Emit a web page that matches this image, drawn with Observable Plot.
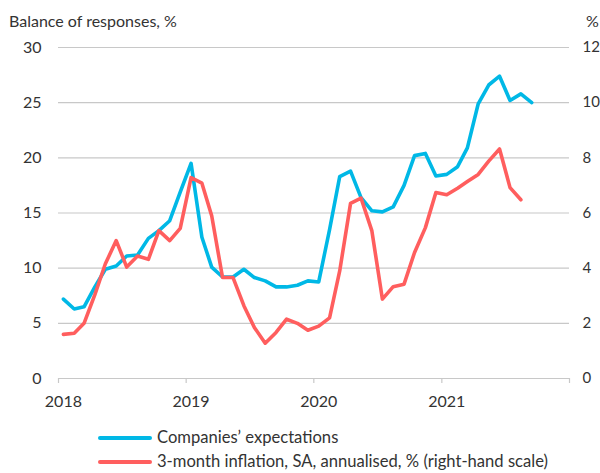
<!DOCTYPE html>
<html><head><meta charset="utf-8">
<script src="https://cdn.jsdelivr.net/npm/d3@7"></script>
<script src="https://cdn.jsdelivr.net/npm/@observablehq/plot@0.6"></script>
<style>
body{margin:0;background:#fff;font-family:Lato,"Noto Sans",sans-serif;color:#333}
#wrap{position:relative;width:600px;height:473px;overflow:hidden}
#head{position:relative;height:36px;font-size:16px}
#t1{position:absolute;left:9px;top:11px}
#t2{position:absolute;left:586px;top:11px}
#legend{position:absolute;left:98px;top:425px;font-size:16.6px}
.row{height:24px;line-height:24px;white-space:nowrap}
.sw{display:inline-block;width:54px;height:4px;border-radius:2px;vertical-align:middle;margin-right:5px;position:relative;top:-1px}
.right-axis text{font-size:15px}
</style></head><body>
<div id="wrap">
<div id="head"><span id="t1">Balance of responses, %</span><span id="t2">%</span></div>
<div id="chart"></div>
<div id="legend"></div>
</div>
<script>
const months = [
 "2018-01","2018-02","2018-03","2018-04","2018-05","2018-06","2018-07","2018-08","2018-09","2018-10","2018-11","2018-12",
 "2019-01","2019-02","2019-03","2019-04","2019-05","2019-06","2019-07","2019-08","2019-09","2019-10","2019-11","2019-12",
 "2020-01","2020-02","2020-03","2020-04","2020-05","2020-06","2020-07","2020-08","2020-09","2020-10","2020-11","2020-12",
 "2021-01","2021-02","2021-03","2021-04","2021-05","2021-06","2021-07","2021-08","2021-09"
];
// Companies' expectations (left scale, balance %)
const companies = [
 7.2, 6.3, 6.5, 8.3, 9.9, 10.2, 11.1, 11.2, 12.7, 13.4, 14.3, 16.9,
 19.5, 12.8, 10.1, 9.2, 9.2, 9.9, 9.15, 8.85, 8.3, 8.3, 8.45, 8.85,
 8.75, 13.5, 18.3, 18.8, 16.4, 15.2, 15.1, 15.55, 17.5, 20.2, 20.4, 18.35,
 18.5, 19.2, 20.9, 24.9, 26.6, 27.4, 25.2, 25.8, 25.0
];
// 3-month inflation, SA, annualised, % (right scale)
const inflation = [
 1.6, 1.64, 2.0, 3.04, 4.16, 5.0, 4.04, 4.44, 4.32, 5.36, 5.0, 5.44,
 7.28, 7.08, 5.9, 3.66, 3.66, 2.64, 1.85, 1.28, 1.67, 2.15, 2.0, 1.75,
 1.9, 2.2, 3.9, 6.35, 6.54, 5.35, 2.88, 3.33, 3.42, 4.57, 5.47, 6.74,
 6.66, 6.9, 7.14, 7.4, 7.88, 8.32, 6.92, 6.48
];
const yearLabels = [2018, 2019, 2020, 2021];
const yearTicks = [2018, 2019, 2020, 2021, 2022];
const leftTicks = [0, 5, 10, 15, 20, 25, 30];
const rightTicks = [0, 2, 4, 6, 8, 10, 12];
const ratio = 2.5; // left / right
const seriesNames = ["Companies\u2019 expectations", "3-month inflation, SA, annualised, % (right-hand scale)"];
const colors = ["#00b8e6", "#ff5e5e"];

const toDate = s => { const [y, m] = s.split("-").map(Number); return new Date(Date.UTC(y, m - 1, 15)); };
const blue = companies.map((v, i) => ({date: toDate(months[i]), value: v}));
const red = inflation.map((v, i) => ({date: toDate(months[i]), value: v}));

const chart = Plot.plot({
  width: 600, height: 374,
  marginTop: 11, marginBottom: 32, marginLeft: 58, marginRight: 31,
  x: {type: "utc", domain: [new Date(Date.UTC(2018, 0, 1)), new Date(Date.UTC(2022, 0, 1))]},
  y: {domain: [0, 30]},
  style: {fontFamily: "Lato, 'Noto Sans', sans-serif", fontSize: "16px", color: "#333", background: "#fff"},
  marks: [
    Plot.gridY(leftTicks, {stroke: "#c8c8c8", strokeOpacity: 1, strokeWidth: 1.2}),
    Plot.axisY(leftTicks, {anchor: "left", tickSize: 0, tickPadding: 17, label: null}),
    Plot.axisY(rightTicks.map(d => d * ratio), {anchor: "right", tickSize: 0, tickPadding: 13, tickFormat: d => String(Math.round(d / ratio)), label: null, className: "right-axis"}),
    Plot.axisX(yearTicks.map(y => new Date(Date.UTC(y, 0, 1))), {tickSize: 5, tickFormat: () => "", label: null, stroke: "#c8c8c8", strokeWidth: 1.2}),
    Plot.text(yearLabels, {x: d => new Date(Date.UTC(d, 0, 15)), y: 0, dy: 23, text: d => String(d), fill: "#333"}),
    Plot.lineY(blue, {x: "date", y: "value", stroke: colors[0], strokeWidth: 3.6, strokeLinejoin: "round", strokeLinecap: "round"}),
    Plot.lineY(red, {x: "date", y: d => d.value * ratio, stroke: colors[1], strokeWidth: 3.6, strokeLinejoin: "round", strokeLinecap: "round"})
  ]
});
document.getElementById("chart").appendChild(chart);

const legend = document.getElementById("legend");
seriesNames.forEach((name, i) => {
  const row = document.createElement("div");
  row.className = "row";
  const sw = document.createElement("span");
  sw.className = "sw";
  sw.style.background = colors[i];
  row.appendChild(sw);
  row.appendChild(document.createTextNode(name));
  legend.appendChild(row);
});
</script>
</body></html>
